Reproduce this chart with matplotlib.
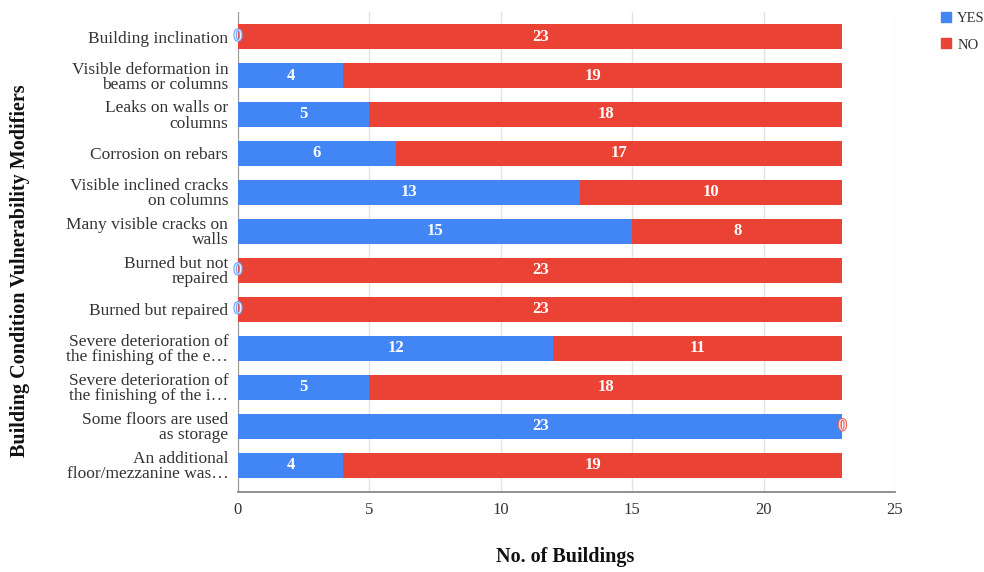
import matplotlib
matplotlib.use("Agg")
import matplotlib.pyplot as plt
import matplotlib.patheffects as pe
from matplotlib.lines import Line2D

categories = [
    "Building inclination",
    "Visible deformation in\nbeams or columns",
    "Leaks on walls or\ncolumns",
    "Corrosion on rebars",
    "Visible inclined cracks\non columns",
    "Many visible cracks on\nwalls",
    "Burned but not\nrepaired",
    "Burned but repaired",
    "Severe deterioration of\nthe finishing of the e\u2026",
    "Severe deterioration of\nthe finishing of the i\u2026",
    "Some floors are used\nas storage",
    "An additional\nfloor/mezzanine was\u2026",
]
yes_vals = [0, 4, 5, 6, 13, 15, 0, 0, 12, 5, 23, 4]
no_vals = [23, 19, 18, 17, 10, 8, 23, 23, 11, 18, 0, 19]
x_ticks = [0, 5, 10, 15, 20, 25]

BLUE = "#4285F4"
RED = "#EA4335"

plt.rcParams['font.family'] = ['Liberation Serif', 'DejaVu Serif']

W, H = 984, 572
fig = plt.figure(figsize=(W / 100, H / 100), dpi=100)
left, right, top, bottom = 238, 895, 12, 492
ax = fig.add_axes([left / W, 1 - bottom / H, (right - left) / W, (bottom - top) / H])

n = len(categories)
ys = list(range(n))
ax.barh(ys, yes_vals, height=0.64, color=BLUE, zorder=3)
ax.barh(ys, no_vals, left=yes_vals, height=0.64, color=RED, zorder=3)

for y, a, b in zip(ys, yes_vals, no_vals):
    if a > 0:
        ax.text(a / 2, y, str(a), ha='center', va='center', color='white',
                fontsize=12, fontweight='bold', zorder=4)
    else:
        ax.text(0, y, "0", ha='center', va='center', color='#e8f0fe',
                fontsize=12, zorder=4,
                path_effects=[pe.withStroke(linewidth=1.6, foreground='#6fa0f6')])
    if b > 0:
        ax.text(a + b / 2, y, str(b), ha='center', va='center', color='white',
                fontsize=12, fontweight='bold', zorder=4)
    else:
        ax.text(a, y, "0", ha='center', va='center', color='#fde8e6',
                fontsize=12, zorder=4,
                path_effects=[pe.withStroke(linewidth=1.6, foreground='#ee6a5f')])

ax.set_yticks(ys)
ax.set_yticklabels(categories, fontsize=12.5, color='#333333', linespacing=0.92)
ax.set_ylim(n - 1 + 0.69, -0.63)
ax.set_xlim(0, 25)
ax.set_xticks(x_ticks)
ax.tick_params(axis='x', labelsize=12, colors='#333333', length=0, pad=7)
ax.tick_params(axis='y', length=0, pad=7)
ax.grid(axis='x', color='#e3e3e3', linewidth=1, zorder=0)
for s in ['top', 'right']:
    ax.spines[s].set_visible(False)
ax.spines['left'].set_color('#999999')
ax.spines['bottom'].set_color('#888888')
ax.spines['bottom'].set_linewidth(1.3)

fig.text(565 / W, 1 - 557 / H, "No. of Buildings", fontsize=14.5,
         fontweight='bold', ha='center', va='center', color='#111111')
fig.text(20 / W, 1 - 271 / H, "Building Condition Vulnerability Modifiers",
         fontsize=14.5, fontweight='bold', ha='center', va='center',
         rotation=90, color='#111111')

handles = [Line2D([], [], marker='s', linestyle='none', color=BLUE, markersize=6.5),
           Line2D([], [], marker='s', linestyle='none', color=RED, markersize=6.5)]
fig.legend(handles, ["YES", "NO"], loc='upper left', bbox_to_anchor=(939 / W, 1 - 12 / H),
           frameon=False, fontsize=10.5, handletextpad=0.25, labelspacing=0.9,
           borderaxespad=0, borderpad=0, handlelength=1, labelcolor='#333333')

fig.savefig("out.png", dpi=100)
